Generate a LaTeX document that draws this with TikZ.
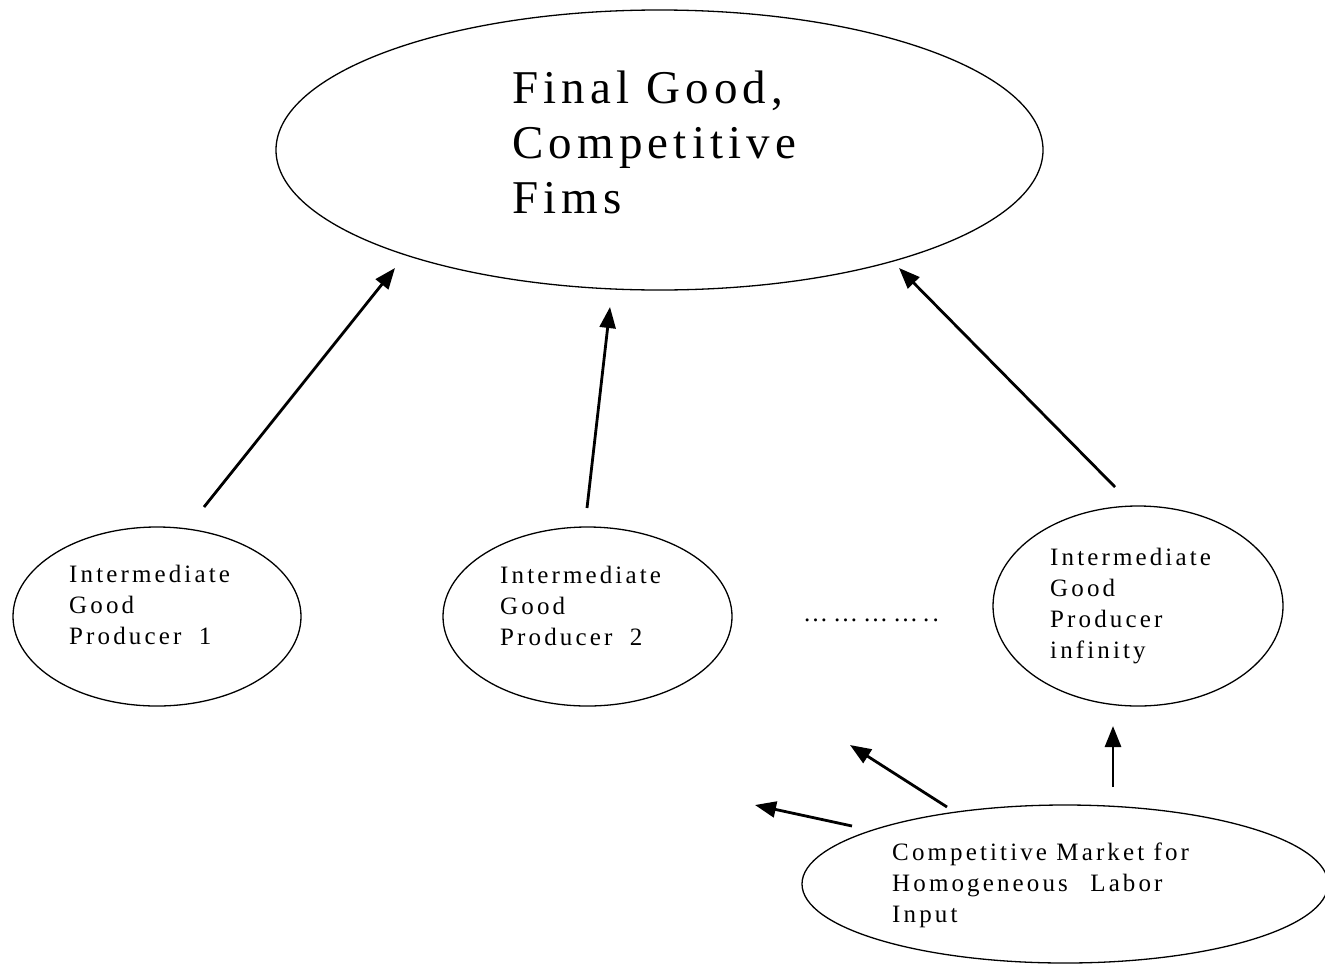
\documentclass[tikz,border=0pt]{standalone}
\usepackage{fontspec}
\newfontfamily\tfont{Liberation Serif}[LetterSpace=11]
\newfontfamily\sfontx{Liberation Serif}[LetterSpace=12.5]
\usetikzlibrary{shapes.geometric,arrows.meta}
\begin{document}
\begin{tikzpicture}[x=1bp,y=-1bp,
  oval/.style={draw, ellipse, line width=1.3bp, inner sep=0pt},
  bigtext/.style={font=\tfont\fontsize{47bp}{55bp}\selectfont, anchor=base west, align=left, inner sep=0pt},
  smalltext/.style={font=\sfontx\fontsize{25bp}{31bp}\selectfont, anchor=base west, align=left, inner sep=0pt},
  arr/.style={-{Triangle[length=21bp,width=16bp]}, line width=2.8bp}]
\useasboundingbox (0,0) rectangle (1325,964);
% ellipses
\node[oval, minimum width=767bp, minimum height=280bp] (final) at (659.5,150) {};
\node[oval, minimum width=288bp, minimum height=179bp] (p1) at (157,616.5) {};
\node[oval, minimum width=289bp, minimum height=179bp] (p2) at (587.5,616.5) {};
\node[oval, minimum width=290bp, minimum height=200bp] (pinf) at (1138,606) {};
\node[oval, minimum width=526bp, minimum height=158bp] (labor) at (1065,884) {};
% texts (anchor = baseline of the last line)
\node[bigtext] (tfinal) at (512,213) {Final Good,\\Competitive\\Fims};
\node[smalltext] (tp1) at (69,644) {Intermediate\\Good\\Producer\hspace{0.7em}1};
\node[smalltext] (tp2) at (500,645) {Intermediate\\Good\\Producer\hspace{0.7em}2};
\node[smalltext] (tpinf) at (1050,658) {Intermediate\\Good\\Producer\\infinity};
\node[smalltext] (tlabor) at (892,922) {Competitive Market for\\Homogeneous\hspace{0.9em}Labor\\Input};
\node[smalltext] (dots) at (803,621) {…\kern5bp…\kern5bp…\kern5bp…\kern5bp..};
% arrow end points
\coordinate (a1s) at (204,507);  \coordinate (a1e) at (395,268);
\coordinate (a2s) at (587,508);  \coordinate (a2e) at (610,307);
\coordinate (a3s) at (1115,487); \coordinate (a3e) at (899,268);
\coordinate (a4s) at (1113,787); \coordinate (a4e) at (1113,726);
\coordinate (a5s) at (947,807);  \coordinate (a5e) at (850,745);
\coordinate (a6s) at (852,826);  \coordinate (a6e) at (755,805);
\draw[arr] (a1s) -- (a1e);
\draw[arr] (a2s) -- (a2e);
\draw[arr] (a3s) -- (a3e);
\draw[arr] (a4s) -- (a4e);
\draw[arr] (a5s) -- (a5e);
\draw[arr] (a6s) -- (a6e);
\end{tikzpicture}
\end{document}
